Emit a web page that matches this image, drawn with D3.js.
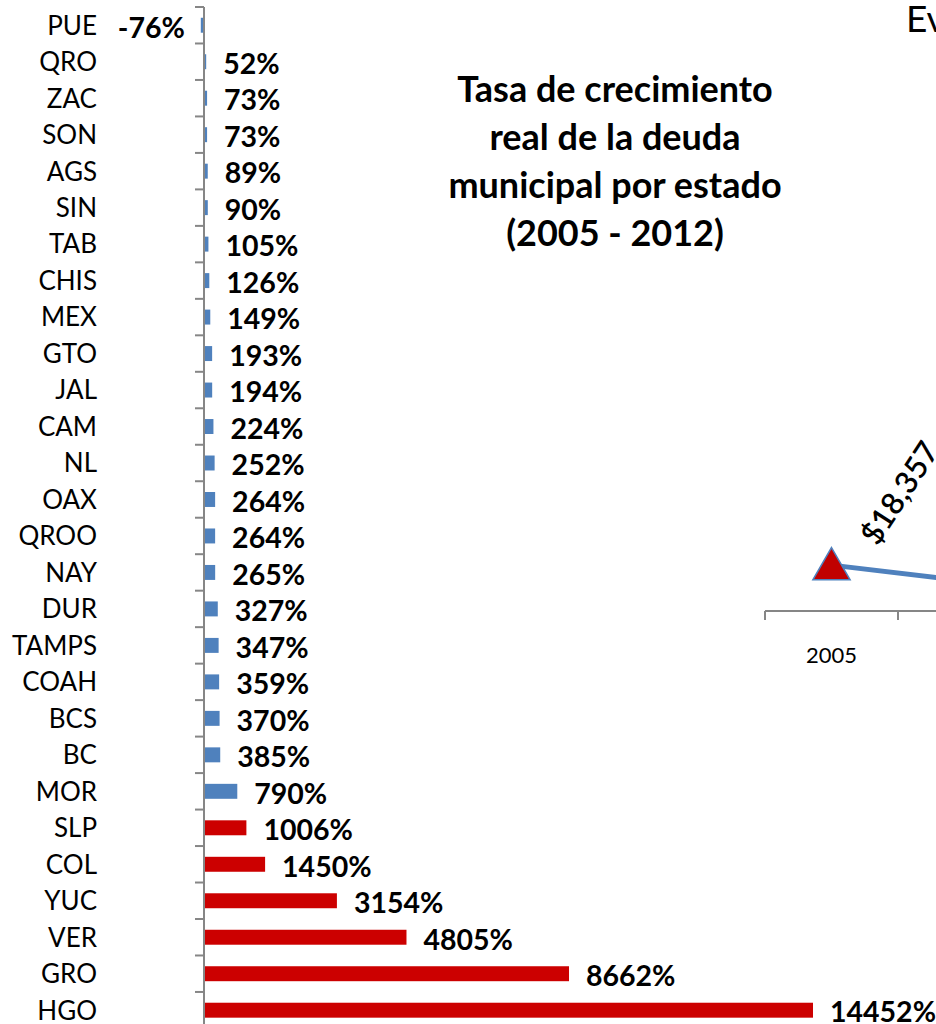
<!DOCTYPE html>
<html lang="es">
<head>
    <meta charset="UTF-8">
    <title>Tasa de crecimiento real de la deuda municipal</title>
    <style>
        html, body { margin: 0; padding: 0; background: #ffffff; overflow: hidden; }
        svg { display: block; font-family: Lato, 'Open Sans', sans-serif; }
    </style>
</head>
<body>
    <div id="chart"></div>
    <script src="https://d3js.org/d3.v7.min.js"></script>
    <script>
        // Tasa de crecimiento real de la deuda municipal por estado (2005 - 2012)
        const states = ['PUE', 'QRO', 'ZAC', 'SON', 'AGS', 'SIN', 'TAB', 'CHIS', 'MEX', 'GTO',
                        'JAL', 'CAM', 'NL', 'OAX', 'QROO', 'NAY', 'DUR', 'TAMPS', 'COAH', 'BCS',
                        'BC', 'MOR', 'SLP', 'COL', 'YUC', 'VER', 'GRO', 'HGO'];
        const growth = [-76, 52, 73, 73, 89, 90, 105, 126, 149, 193,
                        194, 224, 252, 264, 264, 265, 327, 347, 359, 370,
                        385, 790, 1006, 1450, 3154, 4805, 8662, 14452];
        const titleLines = ['Tasa de crecimiento', 'real de la deuda', 'municipal por estado', '(2005 - 2012)'];

        // second chart, mostly cut off on the right
        const years = ['2005', '2006'];
        const debt = [18357, 12000];

        const width = 936, height = 1024;
        const svg = d3.select('#chart').append('svg')
            .attr('width', width)
            .attr('height', height);

        const rows = states.map((s, i) => ({ state: s, value: growth[i] }));

        const y = d3.scaleBand()
            .domain(states)
            .range([7, 7 + 36.48 * states.length])
            .paddingInner(0.59)
            .paddingOuter(0.295);

        const x = d3.scaleLinear()
            .domain([0, 14452])
            .range([204, 813]);

        // bars
        svg.selectAll('.bar')
            .data(rows)
            .enter()
            .append('rect')
            .attr('class', 'bar')
            .attr('x', d => Math.min(x(0), x(d.value)))
            .attr('y', d => y(d.state))
            .attr('width', d => Math.abs(x(d.value) - x(0)))
            .attr('height', y.bandwidth())
            .attr('fill', d => d.value >= 1000 ? '#cc0000' : '#4f81bd');

        // category axis
        svg.append('line')
            .attr('x1', x(0)).attr('x2', x(0))
            .attr('y1', y.range()[0]).attr('y2', height)
            .attr('stroke', '#868686')
            .attr('stroke-width', 2);

        svg.selectAll('.tick')
            .data(d3.range(states.length + 1))
            .enter()
            .append('line')
            .attr('class', 'tick')
            .attr('x1', x(0) - 9).attr('x2', x(0))
            .attr('y1', i => y.range()[0] + i * y.step())
            .attr('y2', i => y.range()[0] + i * y.step())
            .attr('stroke', '#868686')
            .attr('stroke-width', 2);

        svg.selectAll('.cat')
            .data(rows)
            .enter()
            .append('text')
            .attr('class', 'cat')
            .attr('x', 97)
            .attr('y', d => y(d.state) + y.bandwidth() / 2)
            .attr('dy', '0.36em')
            .attr('text-anchor', 'end')
            .style('font-size', '26px')
            .style('fill', '#000')
            .text(d => d.state);

        // value labels
        svg.selectAll('.val')
            .data(rows)
            .enter()
            .append('text')
            .attr('class', 'val')
            .attr('x', d => d.value < 0 ? x(d.value) - 16 : x(d.value) + 17)
            .attr('y', d => y(d.state) + y.bandwidth() / 2 + 2)
            .attr('dy', '0.36em')
            .attr('text-anchor', d => d.value < 0 ? 'end' : 'start')
            .style('font-size', '28.5px')
            .style('font-weight', 'bold')
            .style('fill', '#000')
            .text(d => d.value + '%');

        // title
        svg.append('text')
            .attr('x', 615)
            .attr('y', 102)
            .attr('text-anchor', 'middle')
            .style('font-size', '36px')
            .style('font-weight', 'bold')
            .selectAll('tspan')
            .data(titleLines)
            .enter()
            .append('tspan')
            .attr('x', 615)
            .attr('dy', (d, i) => i === 0 ? 0 : 48)
            .text(d => d);

        // second chart
        const xYear = d3.scaleBand()
            .domain(years)
            .range([765, 765 + 133 * years.length]);

        const yDebt = d3.scaleLinear()
            .domain([0, 120000])
            .range([611, 311]);

        svg.append('text')
            .attr('x', 906)
            .attr('y', 32)
            .style('font-size', '37px')
            .text('Evolución de la deuda municipal');

        svg.append('line')
            .attr('x1', 765).attr('x2', width)
            .attr('y1', 611).attr('y2', 611)
            .attr('stroke', '#868686')
            .attr('stroke-width', 2);

        svg.selectAll('.ytick')
            .data(years)
            .enter()
            .append('line')
            .attr('class', 'ytick')
            .attr('x1', d => xYear(d)).attr('x2', d => xYear(d))
            .attr('y1', 611).attr('y2', 620)
            .attr('stroke', '#868686')
            .attr('stroke-width', 2);

        svg.selectAll('.year')
            .data(years)
            .enter()
            .append('text')
            .attr('class', 'year')
            .attr('x', d => xYear(d) + xYear.bandwidth() / 2)
            .attr('y', 663)
            .attr('text-anchor', 'middle')
            .style('font-size', '22px')
            .text(d => d);

        const pts = years.map((yr, i) => ({ year: yr, value: debt[i] }));
        const line = d3.line()
            .x(d => xYear(d.year) + xYear.bandwidth() / 2)
            .y(d => yDebt(d.value));

        svg.append('path')
            .datum(pts)
            .attr('d', line)
            .attr('fill', 'none')
            .attr('stroke', '#4f81bd')
            .attr('stroke-width', 5);

        svg.selectAll('.marker')
            .data(pts.slice(0, 1))
            .enter()
            .append('path')
            .attr('class', 'marker')
            .attr('transform', d => `translate(${xYear(d.year) + xYear.bandwidth() / 2},${yDebt(d.value) + 4})`)
            .attr('d', d3.symbol().type(d3.symbolTriangle).size(600))
            .attr('fill', '#c00000')
            .attr('stroke', '#4f81bd')
            .attr('stroke-width', 1.5);

        svg.selectAll('.dlabel')
            .data(pts.slice(0, 1))
            .enter()
            .append('text')
            .attr('class', 'dlabel')
            .attr('transform', d => `translate(${xYear(d.year) + xYear.bandwidth() / 2 + 46},${yDebt(d.value) - 18}) rotate(-57)`)
            .style('font-size', '31px')
            .style('font-weight', '600')
            .text(d => '$' + d3.format(',')(d.value));
    </script>
</body>
</html>
